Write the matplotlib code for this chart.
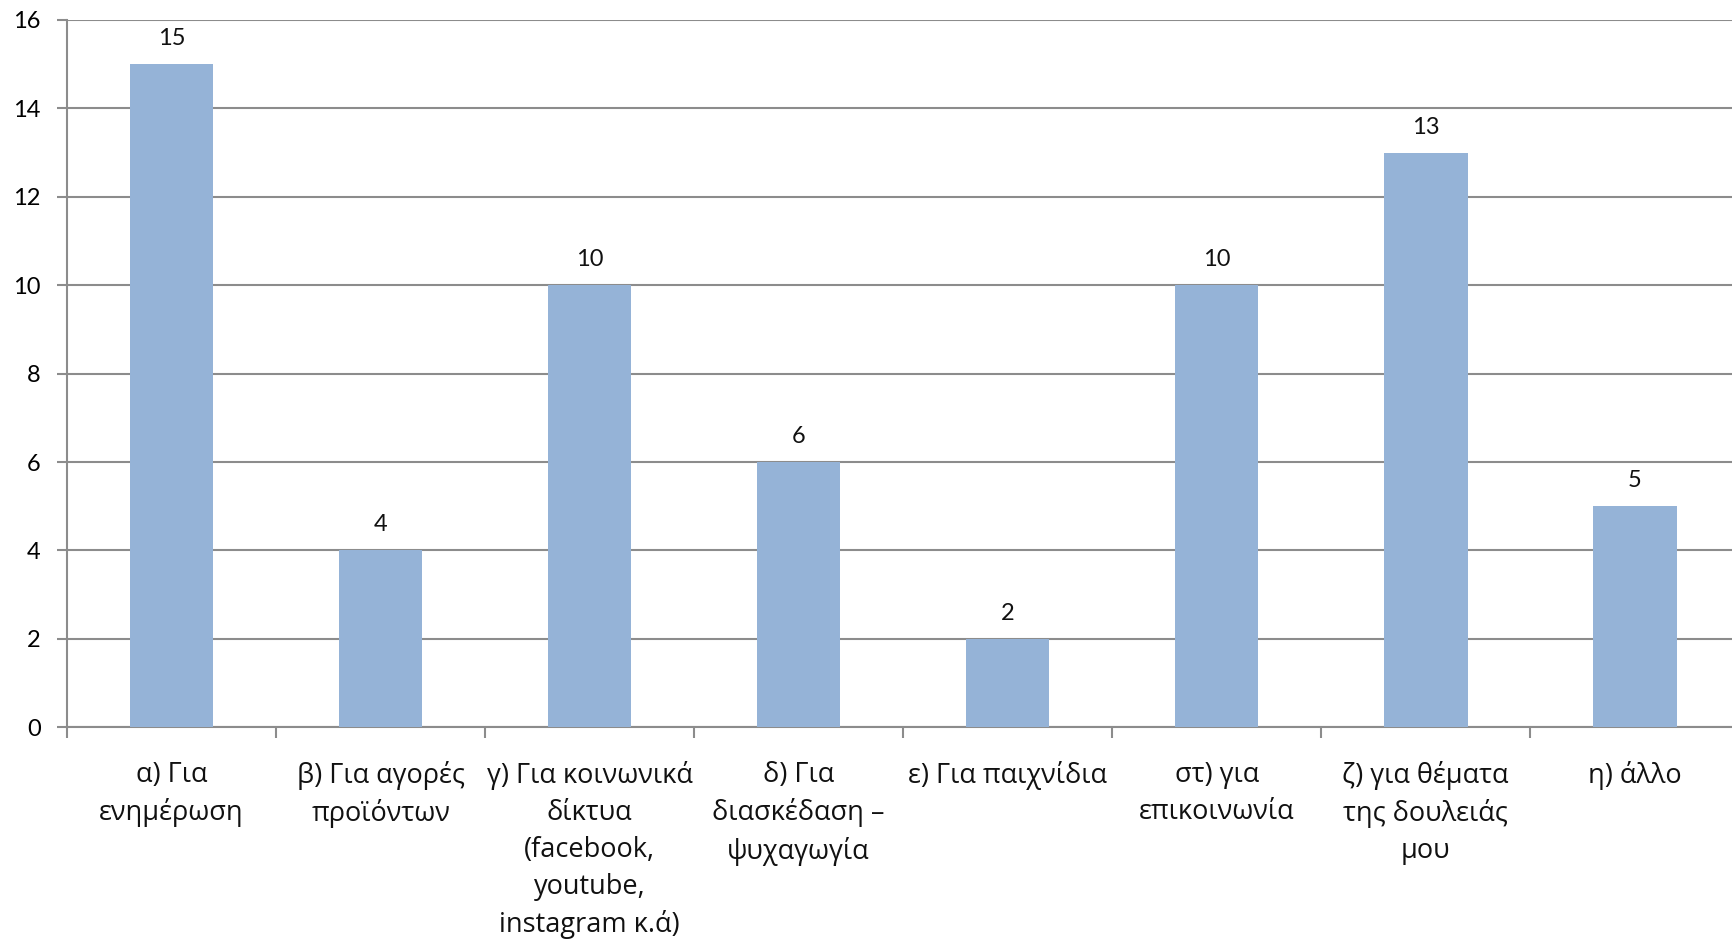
import matplotlib
matplotlib.use("Agg")
import matplotlib.pyplot as plt
import numpy as np

categories = [
    "α) Για\nενημέρωση",
    "β) Για αγορές\nπροϊόντων",
    "γ) Για κοινωνικά\nδίκτυα\n(facebook,\nyoutube,\ninstagram κ.ά)",
    "δ) Για\nδιασκέδαση –\nψυχαγωγία",
    "ε) Για παιχνίδια",
    "στ) για\nεπικοινωνία",
    "ζ) για θέματα\nτης δουλειάς\nμου",
    "η) άλλο",
]
values = [15, 4, 10, 6, 2, 10, 13, 5]
y_ticks = [0, 2, 4, 6, 8, 10, 12, 14, 16]

bar_color = "#95B3D7"
grid_color = "#8C8C8C"
num_font = ["Lato", "DejaVu Sans"]
label_font = ["Open Sans", "DejaVu Sans"]

fig = plt.figure(figsize=(17.33, 9.42), dpi=100)
ax = fig.add_axes([0.0387, 0.228, 0.9649, 0.7508])

x = np.arange(len(categories))
bars = ax.bar(x, values, width=0.40, color=bar_color, zorder=3)

ax.set_xlim(-0.5, len(categories) - 0.5)
ax.set_ylim(0, 16)
ax.set_yticks(y_ticks)
ax.set_yticklabels([str(v) for v in y_ticks], family=num_font, fontsize=17)

ax.yaxis.grid(True, color=grid_color, linewidth=1.5, zorder=0)
ax.set_axisbelow(True)

for s in ["top", "right"]:
    ax.spines[s].set_visible(False)
for s in ["left", "bottom"]:
    ax.spines[s].set_color(grid_color)
    ax.spines[s].set_linewidth(1.5)

# category boundaries carry the tick marks; labels sit at bar centres
ax.set_xticks(np.arange(len(categories) + 1) - 0.5)
ax.set_xticklabels([])
ax.tick_params(axis="x", direction="out", length=8, width=1.5, color=grid_color)
ax.tick_params(axis="y", direction="out", length=7, width=1.5, color=grid_color, pad=12)

for xi, lab in zip(x, categories):
    ax.annotate(lab, xy=(xi, 0), xycoords="data", xytext=(0, -34),
                textcoords="offset pixels", ha="center", va="top",
                family=label_font, fontsize=19.5, linespacing=1.42,
                color="#111111")

for b, v in zip(bars, values):
    ax.annotate(str(v), xy=(b.get_x() + b.get_width() / 2, v),
                xytext=(0, 15), textcoords="offset pixels",
                ha="center", va="bottom", family=num_font, fontsize=17,
                color="#111111")

fig.savefig("out.png", dpi=100)
